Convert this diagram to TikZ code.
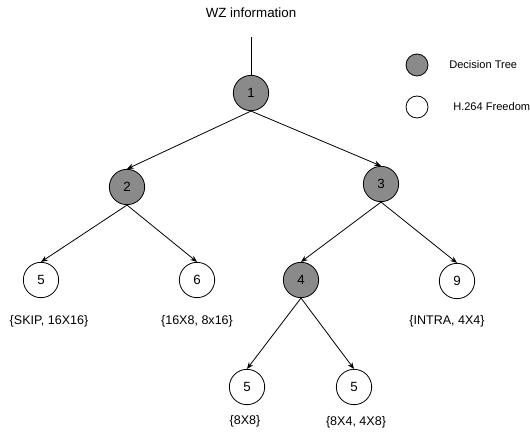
\documentclass[tikz,border=0pt]{standalone}
\usepackage{fontspec}
\setmainfont{Liberation Sans}
\usetikzlibrary{arrows.meta}

\definecolor{treegray}{RGB}{138,138,138}

\begin{document}
\begin{tikzpicture}[x=0.75pt, y=-0.75pt,
    dtree/.style={circle, draw, line width=0.6pt, fill=treegray, minimum size=26.5pt, inner sep=0pt, font=\fontsize{10}{12}\selectfont},
    hfree/.style={circle, draw, line width=0.6pt, fill=white, minimum size=26.5pt, inner sep=0pt, font=\fontsize{10}{12}\selectfont},
    modes/.style={font=\fontsize{9.4}{11}\selectfont},
    edge/.style={-{Stealth[length=5pt,width=4pt]}, line width=0.6pt}]
                    \useasboundingbox (0,0) rectangle (530,438);
                    % Input:
                    \node[font=\fontsize{10}{12}\selectfont] (wz) at (251,13) {WZ information};
                    \coordinate (wzend) at (251,37);

                    % Tree nodes:
                    \node[dtree] (n1) at (251,93) {1};
                    \node[dtree] (n2) at (127,187) {2};
                    \node[dtree] (n3) at (381,184) {3};
                    \node[hfree] (n5a) at (41,280) {5};
                    \node[hfree] (n6) at (197,280) {6};
                    \node[dtree] (n4) at (301,280) {4};
                    \node[hfree] (n9) at (457,281) {9};
                    \node[hfree] (n5b) at (247,387) {5};
                    \node[hfree] (n5c) at (354,387) {5};

                    % Mode sets:
                    \node[modes] (m5a) at (49,321) {\{SKIP, 16X16\}};
                    \node[modes] (m6) at (197,321) {\{16X8, 8x16\}};
                    \node[modes] (m9) at (447,321) {\{INTRA, 4X4\}};
                    \node[modes] (m5b) at (245,421) {\{8X8\}};
                    \node[modes] (m5c) at (356,422) {\{8X4, 4X8\}};

                    % Edges:
                    \draw[line width=0.6pt] (wzend) -- (n1.north);
                    \draw[edge] (n1.south) -- (n2.north);
                    \draw[edge] (n1.south) -- (n3.north);
                    \draw[edge] (n2.south) -- (n5a.north);
                    \draw[edge] (n2.south) -- (n6.north);
                    \draw[edge] (n3.south) -- (n4.north);
                    \draw[edge] (n3.south) -- (n9.north);
                    \draw[edge] (n4.south) -- (n5b.north);
                    \draw[edge] (n4.south) -- (n5c.north);

                    % Legend:
                    \node[dtree, minimum size=16.5pt] (legdt) at (417,65) {};
                    \node[hfree, minimum size=16.5pt] (leghf) at (417,107) {};
                    \node[anchor=west, inner sep=0pt, font=\fontsize{8.3}{10}\selectfont] (legdttext) at (449,65) {Decision Tree};
                    \node[anchor=west, inner sep=0pt, font=\fontsize{8.3}{10}\selectfont] (leghftext) at (453,107) {H.264 Freedom};
                \end{tikzpicture}
\end{document}
